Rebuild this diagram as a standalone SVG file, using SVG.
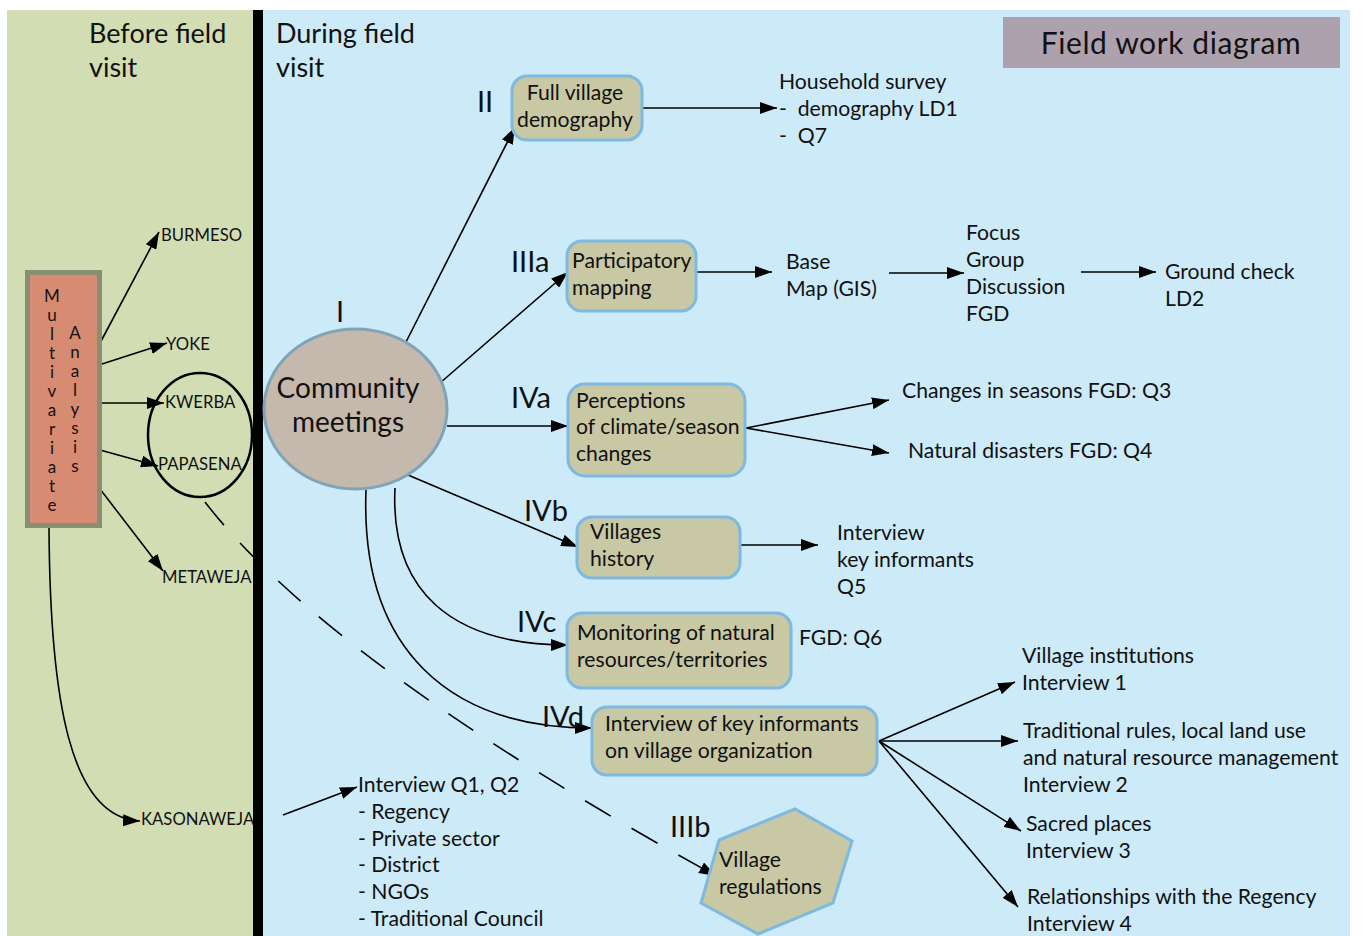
<svg xmlns="http://www.w3.org/2000/svg" width="1363" height="936" viewBox="0 0 1363 936">
<style>
text{font-family:Lato,"Open Sans","Liberation Sans",sans-serif;fill:#111}
.t20{font-size:21.2px}
.t26{font-size:27px}
.num{font-size:29px}
.vil{font-size:16.7px}
.node{fill:#c8c8a5;stroke:#7db9e0;stroke-width:3}
.ln{fill:none;stroke:#000;stroke-width:1.6}
.arr{fill:none;stroke:#000;stroke-width:1.6;marker-end:url(#ah)}
.pre{white-space:pre}
</style>
<defs>
<marker id="ah" markerUnits="userSpaceOnUse" markerWidth="18" markerHeight="12" refX="17" refY="6" orient="auto">
<path d="M0,0 L17,6 L0,12 z" fill="#000"/>
</marker>
</defs>
<rect x="0" y="0" width="1363" height="936" fill="#fff"/>
<rect x="7" y="10" width="248" height="926" fill="#d3ddb3"/>
<rect x="262" y="10" width="1088" height="926" fill="#cceaf8"/>
<rect x="253" y="10" width="10" height="926" fill="#000"/>

<g id="titles">
<text class="t26" x="89" y="43">Before field</text>
<text class="t26" x="89" y="77">visit</text>
<text class="t26" x="276" y="43">During field</text>
<text class="t26" x="276" y="77">visit</text>
</g>
<g id="title">
<rect x="1003" y="17" width="337" height="51" fill="#ada1ad"/>
<text x="1171" y="54" text-anchor="middle" style="font-size:30px;letter-spacing:0.6px">Field work diagram</text>
</g>

<g id="connectors">
<line class="arr" x1="99" y1="345" x2="159" y2="232"/>
<line class="arr" x1="102" y1="364" x2="167" y2="343"/>
<line class="arr" x1="100" y1="403" x2="164" y2="403"/>
<line class="arr" x1="100" y1="450" x2="158" y2="466"/>
<line class="arr" x1="100" y1="489" x2="163" y2="571"/>
<path class="arr" d="M49 528 C50 700 70 818 140 821"/>
<path class="arr" d="M205 502 Q328 662 716 876" stroke-dasharray="30 24" stroke-width="2.2"/>
<line class="arr" x1="283" y1="815" x2="357" y2="787"/>
<line class="arr" x1="406" y1="342" x2="515" y2="127"/>
<line class="arr" x1="642" y1="108" x2="777" y2="108"/>
<line class="arr" x1="440" y1="383" x2="568" y2="272"/>
<line class="arr" x1="697" y1="272" x2="772" y2="272"/>
<line class="arr" x1="889" y1="273" x2="964" y2="273"/>
<line class="arr" x1="1081" y1="272" x2="1156" y2="272"/>
<line class="arr" x1="447" y1="426" x2="568" y2="426"/>
<line class="arr" x1="746" y1="428" x2="889" y2="400"/>
<line class="arr" x1="746" y1="428" x2="889" y2="453"/>
<line class="arr" x1="408" y1="475" x2="578" y2="547"/>
<line class="arr" x1="741" y1="545" x2="818" y2="545"/>
<path class="arr" d="M395 488 C390 590 450 645 568 645"/>
<path class="arr" d="M366 490 C360 650 450 728 592 728"/>
<line class="arr" x1="879" y1="741" x2="1015" y2="682"/>
<line class="arr" x1="879" y1="741" x2="1018" y2="741"/>
<line class="arr" x1="879" y1="741" x2="1021" y2="831"/>
<line class="arr" x1="879" y1="741" x2="1018" y2="907"/>
</g>

<g id="multivariate">
<rect x="27.5" y="272.5" width="72" height="253" fill="#d78b72" stroke="#898e73" stroke-width="5"/>
<g text-anchor="middle" style="font-size:17px">
<text x="52" y="302">M</text><text x="52" y="321">u</text><text x="52" y="340">l</text><text x="52" y="359">t</text><text x="52" y="378">i</text><text x="52" y="397">v</text><text x="52" y="416">a</text><text x="52" y="435">r</text><text x="52" y="454">i</text><text x="52" y="473">a</text><text x="52" y="492">t</text><text x="52" y="511">e</text>
<text x="75" y="339">A</text><text x="75" y="358">n</text><text x="75" y="377">a</text><text x="75" y="396">l</text><text x="75" y="415">y</text><text x="75" y="434">s</text><text x="75" y="453">i</text><text x="75" y="472">s</text>
</g>
</g>

<g id="villages">
<ellipse cx="200" cy="435" rx="52" ry="62" fill="none" stroke="#000" stroke-width="2.5"/>
<text class="vil" x="161" y="241">BURMESO</text>
<text class="vil" x="166" y="350">YOKE</text>
<text class="vil" x="165" y="408">KWERBA</text>
<text class="vil" x="158" y="470">PAPASENA</text>
<text class="vil" x="162" y="583">METAWEJA</text>
<text class="vil" x="141" y="825">KASONAWEJA</text>
</g>

<g id="community">
<ellipse cx="355.5" cy="409" rx="91.5" ry="80" fill="#c5b8ac" stroke="#7fa4b8" stroke-width="3"/>
<text x="348" y="398" text-anchor="middle" style="font-size:28px">Community</text>
<text x="348" y="432" text-anchor="middle" style="font-size:28px">meetings</text>
<text class="num" x="336" y="322">I</text>
</g>

<g id="n-II">
<text class="num" x="477" y="112">II</text>
<rect class="node" x="512" y="76" width="130" height="64" rx="15"/>
<text class="t20" x="575" y="100" text-anchor="middle">Full village</text>
<text class="t20" x="575" y="127" text-anchor="middle">demography</text>
</g>
<g id="household">
<text class="t20" x="779" y="89">Household survey</text>
<text class="t20 pre" x="779" y="116" xml:space="preserve">-  demography LD1</text>
<text class="t20 pre" x="779" y="143" xml:space="preserve">-  Q7</text>
</g>

<g id="n-IIIa">
<text class="num" x="511" y="272">IIIa</text>
<rect class="node" x="567" y="241" width="129" height="70" rx="15"/>
<text class="t20" x="572" y="268">Participatory</text>
<text class="t20" x="572" y="295">mapping</text>
</g>
<g id="basemap">
<text class="t20" x="786" y="269">Base</text>
<text class="t20" x="786" y="296">Map (GIS)</text>
</g>
<g id="fgd">
<text class="t20" x="966" y="240">Focus</text>
<text class="t20" x="966" y="267">Group</text>
<text class="t20" x="966" y="294">Discussion</text>
<text class="t20" x="966" y="321">FGD</text>
</g>
<g id="groundcheck">
<text class="t20" x="1165" y="279">Ground check</text>
<text class="t20" x="1165" y="306">LD2</text>
</g>

<g id="n-IVa">
<text class="num" x="511" y="408">IVa</text>
<rect class="node" x="568" y="384" width="177" height="92" rx="17"/>
<text class="t20" x="576" y="408">Perceptions</text>
<text class="t20" x="576" y="434">of climate/season</text>
<text class="t20" x="576" y="461">changes</text>
</g>
<g id="seasons">
<text class="t20" x="902" y="398">Changes in seasons FGD: Q3</text>
<text class="t20" x="908" y="458">Natural disasters FGD: Q4</text>
</g>

<g id="n-IVb">
<text class="num" x="524" y="521">IVb</text>
<rect class="node" x="577" y="517" width="163" height="61" rx="15"/>
<text class="t20" x="590" y="539">Villages</text>
<text class="t20" x="590" y="566">history</text>
</g>
<g id="keyinf">
<text class="t20" x="837" y="540">Interview</text>
<text class="t20" x="837" y="567">key informants</text>
<text class="t20" x="837" y="594">Q5</text>
</g>

<g id="n-IVc">
<text class="num" x="517" y="632">IVc</text>
<rect class="node" x="567" y="613" width="224" height="75" rx="15"/>
<text class="t20" x="577" y="640">Monitoring of natural</text>
<text class="t20" x="577" y="667">resources/territories</text>
<text class="t20" x="799" y="645">FGD: Q6</text>
</g>

<g id="n-IVd">
<text class="num" x="542" y="727">IVd</text>
<rect class="node" x="592" y="707" width="285" height="68" rx="15"/>
<text class="t20" x="605" y="731">Interview of key informants</text>
<text class="t20" x="605" y="758">on village organization</text>
</g>
<g id="interviews">
<text class="t20" x="1022" y="663">Village institutions</text>
<text class="t20" x="1022" y="690">Interview 1</text>
<text class="t20" x="1023" y="738">Traditional rules, local land use</text>
<text class="t20" x="1023" y="765">and natural resource management</text>
<text class="t20" x="1023" y="792">Interview 2</text>
<text class="t20" x="1026" y="831">Sacred places</text>
<text class="t20" x="1026" y="858">Interview 3</text>
<text class="t20" x="1027" y="904">Relationships with the Regency</text>
<text class="t20" x="1027" y="931">Interview 4</text>
</g>

<g id="n-IIIb">
<text class="num" x="670" y="837">IIIb</text>
<polygon class="node" points="719,840 795,809 852,841 833,903 758,934 701,903"/>
<text class="t20" x="719" y="867">Village</text>
<text class="t20" x="719" y="894">regulations</text>
</g>

<g id="kasonaweja-list">
<text class="t20" x="358" y="792">Interview Q1, Q2</text>
<text class="t20" x="358" y="819">- Regency</text>
<text class="t20" x="358" y="846">- Private sector</text>
<text class="t20" x="358" y="872">- District</text>
<text class="t20" x="358" y="899">- NGOs</text>
<text class="t20" x="358" y="926">- Traditional Council</text>
</g>
</svg>
